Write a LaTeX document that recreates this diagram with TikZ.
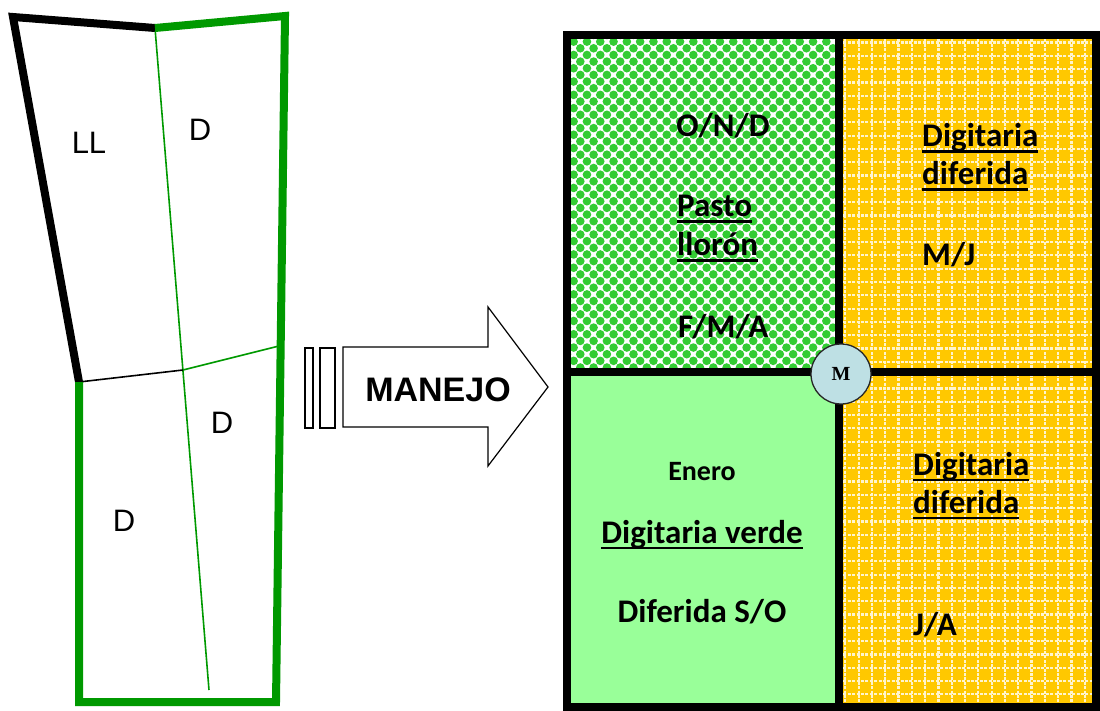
\documentclass[tikz,border=0pt]{standalone}
\usepackage{fontspec}
\setmainfont{Liberation Sans}
\newfontfamily\calb{Carlito}
\newfontfamily\tms{Liberation Serif}
\definecolor{lgreen}{RGB}{0,153,0}
\definecolor{chkgreen}{RGB}{51,204,51}
\definecolor{palegreen}{RGB}{153,255,153}
\definecolor{gold}{RGB}{255,200,0}
\definecolor{circfill}{RGB}{190,224,228}
\newcommand\undl[1]{\setbox0=\hbox{#1}\leavevmode\rlap{\rule[-6pt]{\wd0}{2.5pt}}\box0}
\tikzset{
  blkedge/.style={line width=8pt, black, line join=miter},
  grnedge/.style={line width=8pt, lgreen, line join=miter},
  thingrn/.style={line width=1.6pt, lgreen},
  thinblk/.style={line width=1.6pt, black},
  plotlbl/.style={font=\fontsize{31}{36}\selectfont},
  gridline/.style={line width=8pt, black},
  celltxt/.style={font=\calb\bfseries\fontsize{33}{38}\selectfont, inner sep=0pt},
  smalltxt/.style={font=\calb\bfseries\fontsize{28}{32}\selectfont, inner sep=0pt},
  arrowline/.style={line width=1.2pt, black, line join=miter},
  dashwhite/.style={white!80!gold, line width=2.2pt, dash pattern=on 3pt off 1.4pt}
}
\begin{document}
\begin{tikzpicture}[x=1pt,y=-1pt]
\useasboundingbox (0,0) rectangle (1100,711);
% ---------- left plot ----------
\coordinate (tl) at (13,17);
\coordinate (tm) at (155,28);
\coordinate (tr) at (285,16);
\coordinate (ml) at (79,382);
\coordinate (mx) at (183,370);
\coordinate (mr) at (279,346);
\coordinate (bl) at (79,702);
\coordinate (br) at (276,702);
\coordinate (bm) at (209,690);
\draw[thingrn] (tm) -- (bm);
\draw[thinblk] (ml) -- (mx);
\draw[thingrn] (mx) -- (mr);
\draw[blkedge] (tm) -- (tl) -- (ml);
\draw[grnedge] (tm) -- (tr) -- (br) -- (bl) -- (ml);
\node[plotlbl] (ll) at (89,143) {LL};
\node[plotlbl] (d1) at (200,130) {D};
\node[plotlbl] (d2) at (222,423) {D};
\node[plotlbl] (d3) at (124,521) {D};
% ---------- arrow ----------
\draw[arrowline] (305,348) rectangle (313,428);
\draw[arrowline] (320,348) rectangle (335,428);
\draw[arrowline] (343,347) -- (488,347) -- (488,307) -- (548,387) -- (488,466) -- (488,427) -- (343,427) -- cycle;
\node[font=\bfseries\fontsize{34}{40}\selectfont] (manejo) at (438,390) {MANEJO};
% ---------- grid fills ----------
% top-left: checker pattern
\begin{scope}
\clip (567,35) rectangle (839,372);
\fill[white] (567,35) rectangle (839,372);
\foreach \i in {0,...,21}{
  \foreach \j in {0,...,26}{
    \pgfmathsetmacro{\xx}{567+13.3*\i}
    \pgfmathsetmacro{\yy}{35+13.3*\j}
    \fill[chkgreen] (\xx,\yy) circle[radius=4.3];
    \fill[chkgreen] (\xx+6.65,\yy+6.65) circle[radius=4.3];
  }
}
\end{scope}
% bottom-left
\fill[palegreen] (567,372) rectangle (839,707);
% right: gold with dashed white grid
\begin{scope}
\clip (839,35) rectangle (1096,707);
\fill[gold] (839,35) rectangle (1096,707);
\foreach \k in {0,...,19}{
  \draw[dashwhite] (845.3+13.3*\k,35) -- (845.3+13.3*\k,707);
}
\foreach \k in {0,...,50}{
  \draw[dashwhite] (839,42.6+13.3*\k) -- (1096,42.6+13.3*\k);
}
\end{scope}
% ---------- grid lines ----------
\draw[gridline] (567,35) rectangle (1096,707);
\draw[gridline] (839,35) -- (839,707);
\draw[gridline] (567,372) -- (1096,372);
\node[circle, draw=black!85, line width=1.3pt, fill=circfill, minimum size=60pt, inner sep=0pt,
      font=\tms\bfseries\fontsize{20}{20}\selectfont] (m) at (841,374) {M};
% ---------- texts ----------
\node[celltxt, anchor=base] (ond) at (723,137) {O/N/D};
\node[celltxt, anchor=base west] (pasto) at (677,217) {\undl{Pasto}};
\node[celltxt, anchor=base west] (lloron) at (677,256) {\undl{llorón}};
\node[celltxt, anchor=base west] (fma) at (678,337) {F/M/A};
\node[celltxt, anchor=base west] (dig1) at (922,147) {\undl{Digitaria}};
\node[celltxt, anchor=base west] (dif1) at (922,185) {\undl{diferida}};
\node[celltxt, anchor=base west] (mj) at (922,266) {M/J};
\node[celltxt, anchor=base west] (dig2) at (913,475) {\undl{Digitaria}};
\node[celltxt, anchor=base west] (dif2) at (913,513) {\undl{diferida}};
\node[celltxt, anchor=base west] (ja) at (913,635) {J/A};
\node[smalltxt, anchor=base] (enero) at (702,480) {Enero};
\node[celltxt, anchor=base] (digv) at (702,543) {\undl{Digitaria verde}};
\node[celltxt, anchor=base] (difso) at (702,622) {Diferida S/O};
\end{tikzpicture}
\end{document}
